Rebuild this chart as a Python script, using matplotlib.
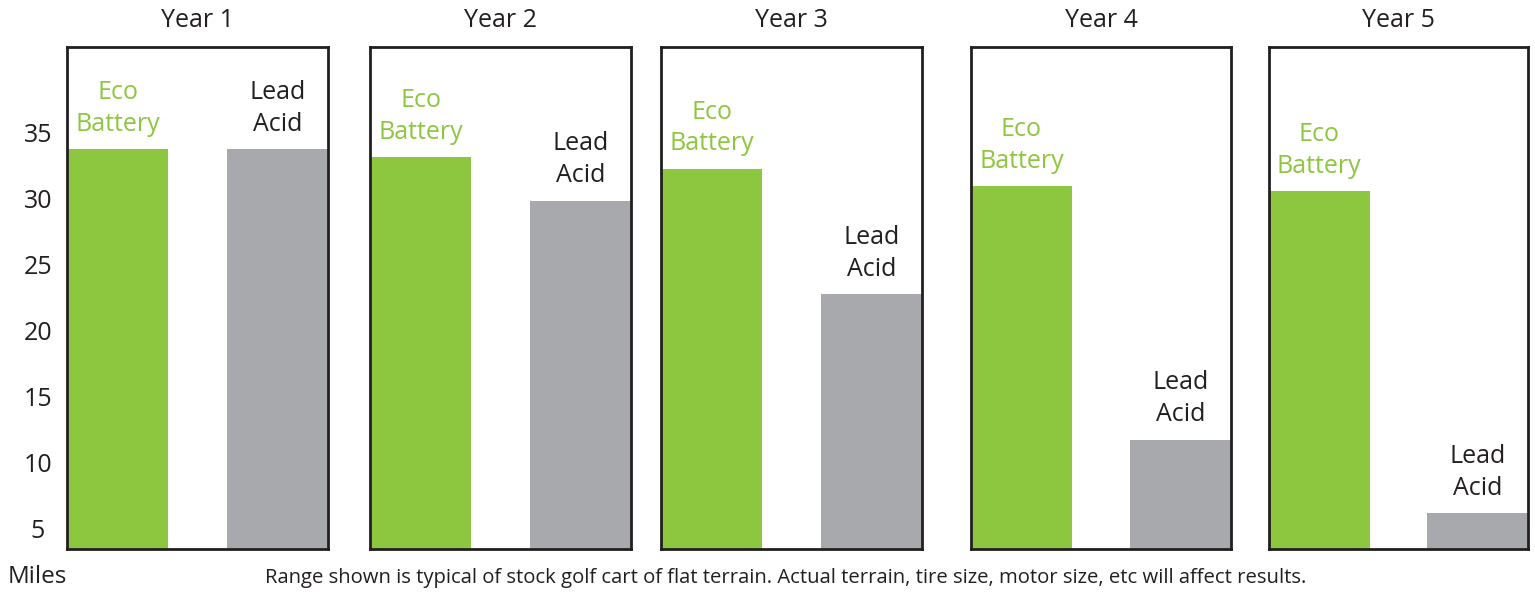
import matplotlib
matplotlib.use("Agg")
import matplotlib.pyplot as plt

# ---- data ----
years = ["Year 1", "Year 2", "Year 3", "Year 4", "Year 5"]
series_labels = ["Eco\nBattery", "Lead\nAcid"]
eco_range = [33.7, 33.1, 32.2, 30.9, 30.5]
lead_range = [33.7, 29.8, 22.7, 11.7, 6.1]
y_ticks = [5, 10, 15, 20, 25, 30, 35]
y_label = "Miles"
footnote = ("Range shown is typical of stock golf cart of flat terrain. "
            "Actual terrain, tire size, motor size, etc will affect results.")

# ---- style ----
GREEN = "#8dc63f"
GRAY = "#a7a9ac"
DARK = "#231f20"
FONT = ["Open Sans", "DejaVu Sans"]
plt.rcParams["font.family"] = FONT

W, H = 1535, 592
fig = plt.figure(figsize=(W / 100, H / 100), dpi=100)

panel_left_px = [67, 370, 661, 971, 1269]
panel_w_px = [261, 261, 261, 260, 259]
top_px, bottom_px = 47, 549
YMIN, YMAX = 3.41, 41.44
BAR_W = 0.635

for i, year in enumerate(years):
    l = panel_left_px[i] / W
    b = (H - bottom_px) / H
    w = panel_w_px[i] / W
    h = (bottom_px - top_px) / H
    ax = fig.add_axes([l, b, w, h])
    vals = [eco_range[i], lead_range[i]]
    colors = [GREEN, GRAY]
    txt_colors = [GREEN, DARK]
    ax.bar([0, 1], vals, width=BAR_W, color=colors, zorder=1)
    for j, v in enumerate(vals):
        ax.annotate(series_labels[j], xy=(j, v), xytext=(0, 9),
                    textcoords="offset points", ha="center", va="bottom",
                    fontsize=18, color=txt_colors[j], linespacing=1.36)
    ax.set_xlim(-BAR_W / 2, 1 + BAR_W / 2)
    ax.set_ylim(YMIN, YMAX)
    ax.set_xticks([])
    for s in ax.spines.values():
        s.set_color(DARK)
        s.set_linewidth(2.0)
        s.set_zorder(3)
    ax.set_title(year, fontsize=18, color=DARK, pad=14.4)
    if i == 0:
        ax.set_yticks(y_ticks)
        ax.set_yticklabels([str(t) for t in y_ticks], fontsize=18, color=DARK)
        ax.tick_params(axis="y", length=0, pad=21)
        for lab in ax.get_yticklabels():
            lab.set_horizontalalignment("center")
    else:
        ax.set_yticks([])

fig.text(8 / W, 1 - 577 / H, y_label, fontsize=17.5, color=DARK,
         ha="left", va="center")
fig.text(786 / W, 1 - 578 / H, footnote, fontsize=14.6, color=DARK,
         ha="center", va="center")

fig.savefig("out.png", dpi=100, facecolor="white")
